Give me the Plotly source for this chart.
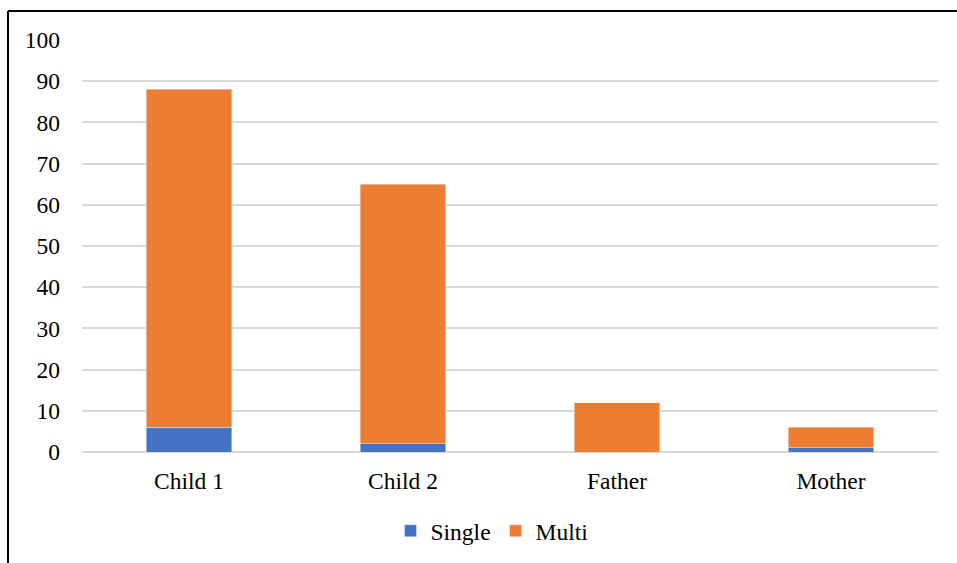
import plotly.graph_objects as go

categories = ["Child 1", "Child 2", "Father", "Mother"]
single = [6, 2, 0, 1]
multi = [82, 63, 12, 5]
y_ticks = [0, 10, 20, 30, 40, 50, 60, 70, 80, 90, 100]

W, H = 957, 563
L, R, T, B = 82, 19, 40, 111
pw, ph = W - L - R, H - T - B

fig = go.Figure()
fig.add_trace(go.Bar(x=categories, y=single, name="Single", marker_color="#4472C4"))
fig.add_trace(go.Bar(x=categories, y=multi, name="Multi", marker_color="#ED7D31"))

font = dict(family="Liberation Serif, Times New Roman, serif", size=23.5, color="#000000")
fig.update_layout(
    barmode="stack",
    bargap=0.6,
    width=W, height=H,
    margin=dict(l=L, r=R, t=T, b=B, autoexpand=False),
    paper_bgcolor="white",
    plot_bgcolor="white",
    font=font,
    showlegend=True,
    legend=dict(orientation="h", xref="container", yref="container",
                x=492 / W, xanchor="center", y=1 - 531 / H, yanchor="middle",
                font=font, itemwidth=30, traceorder="normal", tracegroupgap=0),
    xaxis=dict(showgrid=False, showline=False, zeroline=False, ticks="",
               ticklabelstandoff=12, tickfont=font, automargin=False),
    yaxis=dict(range=[0, 100], tickvals=y_ticks, showgrid=True, gridcolor="#d9d9d9",
               gridwidth=1.5, zeroline=True, zerolinecolor="#d9d9d9", zerolinewidth=1.5,
               showline=False, ticks="", ticklabelstandoff=21, tickfont=font,
               automargin=False),
)

# chart border (top and left only, as in the reference)
x_left = (8 - L) / pw
y_top = 1 + (T - 11) / ph
fig.add_shape(type="line", xref="paper", yref="paper", x0=x_left, x1=(W - L) / pw + 0.01,
              y0=y_top, y1=y_top, line=dict(color="black", width=2))
fig.add_shape(type="line", xref="paper", yref="paper", x0=x_left, x1=x_left,
              y0=y_top, y1=-(B + 5) / ph, line=dict(color="black", width=2))

fig.write_html("out.html")
